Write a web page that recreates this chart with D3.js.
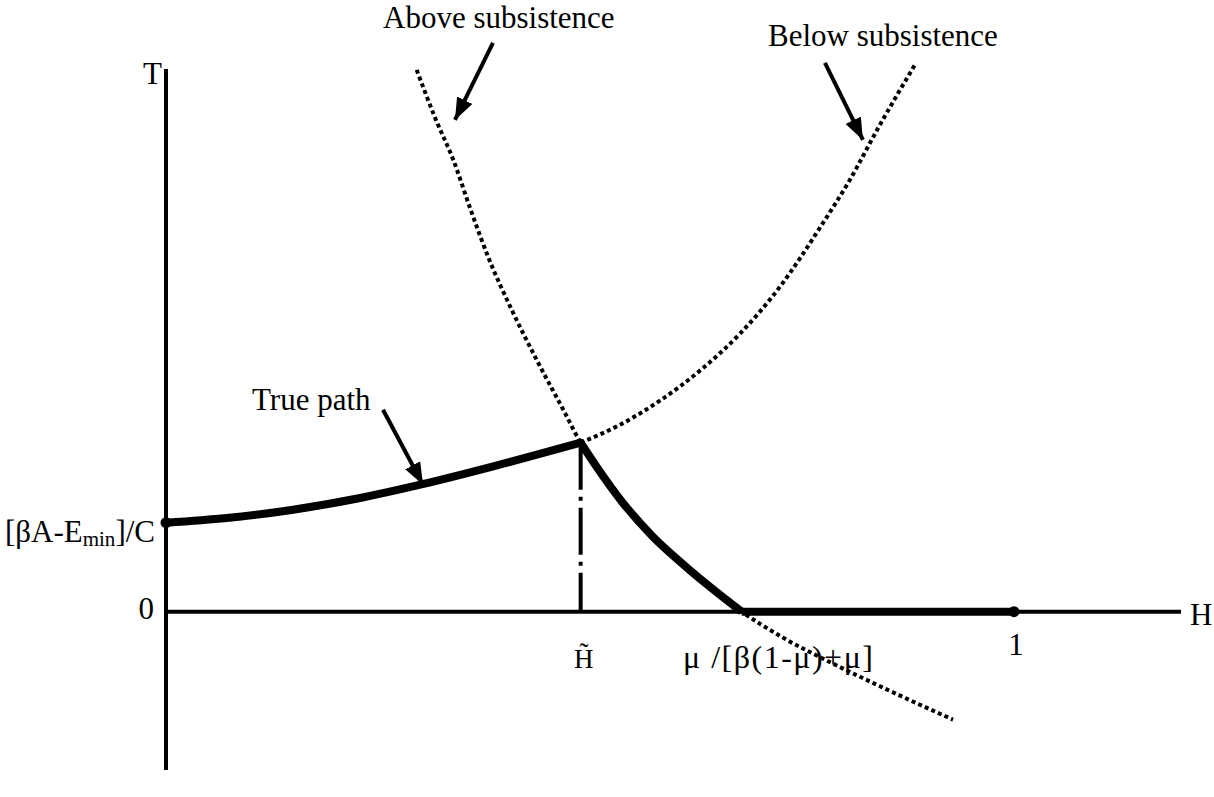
<!DOCTYPE html>
<html>
<head>
<meta charset="utf-8">
<script src="https://cdn.jsdelivr.net/npm/d3@7/dist/d3.min.js"></script>
<style>
  html, body { margin: 0; padding: 0; background: #fff; }
</style>
</head>
<body>
<svg id="chart" width="1214" height="797"></svg>
<script>
// ---- Data (H, T) ----
const axisH = [0, 1.197];          // horizontal axis extent
const axisT = [-1.78, 6.1];        // vertical axis extent
const hTilde = 0.489;              // kink H~
const tKink = 1.899;
const hMu = 0.679;                 // mu/[beta(1-mu)+mu]
const startT = 1.0;                // [betaA-Emin]/C

const aboveH = [0.2956, 0.3184, 0.3388, 0.3593, 0.3813, 0.4077, 0.4371, 0.4685, 0.489, 0.5094, 0.5377, 0.5731, 0.6144, 0.679, 0.7276, 0.7866, 0.8455, 0.9281];
const aboveT = [6.09, 5.528, 5.079, 4.517, 3.955, 3.393, 2.831, 2.270, 1.899, 1.607, 1.2365, 0.854, 0.4946, 0.0, -0.292, -0.584, -0.854, -1.214];

const belowH = [0.489, 0.5354, 0.5825, 0.6297, 0.6769, 0.7241, 0.7712, 0.8066, 0.842, 0.8833];
const belowT = [1.899, 2.101, 2.372, 2.709, 3.125, 3.653, 4.316, 4.856, 5.474, 6.148];

const riseH = [0, 0.0716, 0.150, 0.229, 0.300, 0.386, 0.489];
const riseT = [1.0, 1.053, 1.146, 1.278, 1.427, 1.633, 1.899];
const fallH = [0.489, 0.5094, 0.5377, 0.5731, 0.6144, 0.679];
const fallT = [1.899, 1.607, 1.2365, 0.854, 0.4946, 0.0];
const flatH = [0.679, 1.0];
const flatT = [0, 0];

const arrowLabels = ["Above subsistence", "Below subsistence", "True path"];
const arrowFromH = [0.3856, 0.7771, 0.2559];
const arrowFromT = [6.393, 6.169, 2.270];
const arrowToH = [0.3408, 0.8219, 0.3031];
const arrowToT = [5.528, 5.303, 1.427];

// ---- Scales ----
const W = 1214, Hh = 797;
const FONT = "'Liberation Serif', 'Times New Roman', serif";
const x = d3.scaleLinear().domain(axisH).range([166, 1181]);
const y = d3.scaleLinear().domain(axisT).range([770, 69]);

const svg = d3.select("#chart");
svg.append("rect").attr("width", W).attr("height", Hh).attr("fill", "#fff");

const defs = svg.append("defs");
defs.append("marker")
  .attr("id", "ah").attr("markerUnits", "userSpaceOnUse")
  .attr("viewBox", "0 -10 22 20").attr("refX", 22).attr("refY", 0)
  .attr("markerWidth", 22).attr("markerHeight", 20).attr("orient", "auto")
  .append("path").attr("d", "M0,-8.5L22,0L0,8.5Z").attr("fill", "#000");

const zip = (a, b) => a.map((v, i) => [v, b[i]]);
const line = d3.line().x(d => x(d[0])).y(d => y(d[1])).curve(d3.curveMonotoneX);
const straight = d3.line().x(d => x(d[0])).y(d => y(d[1]));

// Axes
svg.append("line").attr("x1", x(0)).attr("x2", x(0)).attr("y1", y(axisT[1])).attr("y2", y(axisT[0]))
  .attr("stroke", "#000").attr("stroke-width", 4);
svg.append("line").attr("x1", x(0)).attr("x2", x(axisH[1])).attr("y1", y(0)).attr("y2", y(0))
  .attr("stroke", "#000").attr("stroke-width", 4);

// dotted curves
svg.append("path").attr("d", line(zip(aboveH, aboveT))).attr("fill", "none")
  .attr("stroke", "#000").attr("stroke-width", 4).attr("stroke-dasharray", "4,3.2");
svg.append("path").attr("d", line(zip(belowH, belowT))).attr("fill", "none")
  .attr("stroke", "#000").attr("stroke-width", 4).attr("stroke-dasharray", "4,3.2");

// dash-dot vertical at H~
svg.append("line").attr("x1", x(hTilde)).attr("x2", x(hTilde)).attr("y1", y(tKink)).attr("y2", y(0))
  .attr("stroke", "#000").attr("stroke-width", 4).attr("stroke-dasharray", "47,7,4,7");

// true path
svg.append("path").attr("d", line(zip(riseH, riseT))).attr("fill", "none")
  .attr("stroke", "#000").attr("stroke-width", 8);
svg.append("path").attr("d", line(zip(fallH, fallT))).attr("fill", "none")
  .attr("stroke", "#000").attr("stroke-width", 8);
svg.append("path").attr("d", straight(zip(flatH, flatT))).attr("fill", "none")
  .attr("stroke", "#000").attr("stroke-width", 8);
svg.append("circle").attr("cx", x(hTilde)).attr("cy", y(tKink)).attr("r", 4).attr("fill", "#000");

// end dots
svg.append("circle").attr("cx", x(0)).attr("cy", y(startT)).attr("r", 5.5).attr("fill", "#000");
svg.append("circle").attr("cx", x(1)).attr("cy", y(0)).attr("r", 5.5).attr("fill", "#000");

// arrows
arrowLabels.forEach((lab, i) => {
  svg.append("line")
    .attr("x1", x(arrowFromH[i])).attr("y1", y(arrowFromT[i]))
    .attr("x2", x(arrowToH[i])).attr("y2", y(arrowToT[i]))
    .attr("stroke", "#000").attr("stroke-width", 4).attr("marker-end", "url(#ah)");
});

// labels
const fs = 31;
function txt(xp, yp, s, size, anchor) {
  return svg.append("text").attr("x", xp).attr("y", yp)
    .attr("font-family", FONT).attr("font-size", size || fs)
    .attr("text-anchor", anchor || "start").attr("fill", "#000").text(s);
}
txt(383, 28, arrowLabels[0]);
txt(768, 46, arrowLabels[1]);
txt(252, 410, arrowLabels[2]);

txt(x(0) - 4, 84, "T", fs, "end");
txt(x(0) - 12, y(0) + 7, "0", fs, "end");
const yl = txt(x(0) - 11, y(startT) + 19, "", fs, "end");
yl.append("tspan").text("[βA-E");
yl.append("tspan").attr("font-size", 21).attr("dy", 4).text("min");
yl.append("tspan").attr("dy", -4).text("]/C");

txt(x(axisH[1]) + 9, y(0) + 13, "H", fs);
txt(x(1) + 2, y(0) + 43, "1", fs, "middle");
txt(x(hTilde) + 3, y(0) + 56, "H\u0303", 27, "middle");
txt(683, y(0) + 56, "μ /[β(1-μ)+μ]", 32).attr("letter-spacing", 1.5);
</script>
</body>
</html>
